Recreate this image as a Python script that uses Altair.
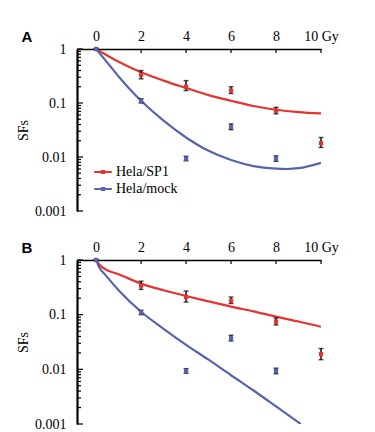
import altair as alt
import pandas as pd

series = ["Hela/SP1", "Hela/mock"]
colors = ["#e6332e", "#5664ae"]

# ---------- Panel A ----------
a_sp1_curve_x = [0, 1, 2, 3, 4, 5, 6, 7, 8, 9, 10]
a_sp1_curve_y = [1, 0.58, 0.37, 0.26, 0.19, 0.14, 0.11, 0.088, 0.075, 0.068, 0.064]
a_mock_curve_x = [0, 0.5, 1, 1.5, 2, 3, 4, 5, 6, 7, 8, 8.5, 9, 10]
a_mock_curve_y = [1, 0.56, 0.31, 0.18, 0.11, 0.047, 0.023, 0.013, 0.0088, 0.0068, 0.0061, 0.006, 0.0062, 0.0078]

a_sp1_x = [0, 2, 4, 6, 8, 10]
a_sp1_y = [1, 0.33, 0.20, 0.17, 0.072, 0.018]
a_sp1_lo = [1, 0.28, 0.17, 0.15, 0.063, 0.015]
a_sp1_hi = [1, 0.40, 0.26, 0.20, 0.083, 0.023]
a_mock_x = [0, 2, 4, 6, 8]
a_mock_y = [1, 0.11, 0.0093, 0.036, 0.0093]
a_mock_lo = [1, 0.10, 0.0085, 0.032, 0.0083]
a_mock_hi = [1, 0.12, 0.0103, 0.041, 0.0105]

# ---------- Panel B ----------
b_sp1_curve_x = [0, 0.15, 0.4, 1, 2, 3, 4, 5, 6, 7, 8, 9, 10]
b_sp1_curve_y = [1, 0.82, 0.68, 0.55, 0.37, 0.28, 0.22, 0.175, 0.14, 0.115, 0.092, 0.075, 0.06]
b_mock_curve_x = [0, 0.15, 0.4, 1, 2, 3, 4, 5, 6, 7, 8, 9.1]
b_mock_curve_y = [1, 0.72, 0.54, 0.28, 0.113, 0.055, 0.028, 0.015, 0.0078, 0.0041, 0.0021, 0.001]

b_sp1_x = [0, 2, 4, 6, 8, 10]
b_sp1_y = [1, 0.34, 0.21, 0.18, 0.075, 0.019]
b_sp1_lo = [1, 0.29, 0.17, 0.16, 0.065, 0.015]
b_sp1_hi = [1, 0.41, 0.27, 0.21, 0.087, 0.024]
b_mock_x = [0, 2, 4, 6, 8]
b_mock_y = [1, 0.11, 0.0093, 0.037, 0.0093]
b_mock_lo = [1, 0.10, 0.0085, 0.033, 0.0083]
b_mock_hi = [1, 0.12, 0.0103, 0.042, 0.0105]

x_ticks = [0, 2, 4, 6, 8, 10]
y_major = [0.001, 0.01, 0.1, 1]
y_minor = [m * d for d in [0.001, 0.01, 0.1] for m in range(2, 10)]

SERIF = "Liberation Serif"
W = 244


def curves_df(sx, sy, mx, my):
    return pd.concat([
        pd.DataFrame({"x": sx, "y": sy, "s": series[0], "o": range(len(sx))}),
        pd.DataFrame({"x": mx, "y": my, "s": series[1], "o": range(len(mx))}),
    ])


def points_df(sx, sy, slo, shi, mx, my, mlo, mhi):
    return pd.concat([
        pd.DataFrame({"x": sx, "y": sy, "lo": slo, "hi": shi, "s": series[0]}),
        pd.DataFrame({"x": mx, "y": my, "lo": mlo, "hi": mhi, "s": series[1]}),
    ])


xscale = alt.Scale(domain=[-0.85, 10], nice=False, zero=False)
yscale = alt.Scale(type="log", domain=[0.001, 1], nice=False)
cscale = alt.Scale(domain=series, range=colors)

legend_path = "M-1.1,0H1.1M-0.14,-0.14H0.14V0.14H-0.14Z"

x_axis = alt.Axis(orient="top", values=x_ticks, ticks=False, grid=False,
                  title=None, domainColor="black", domainWidth=1.5,
                  labelFont=SERIF, labelFontSize=14, labelColor="black",
                  labelPadding=6, labelFlush=False,
                  labelExpr="datum.value == 10 ? '10 Gy' : datum.label")
y_axis = alt.Axis(values=y_major, format="~g", ticks=False, grid=False,
                  title="SFs", titleFont=SERIF, titleFontSize=14,
                  titleFontWeight="normal", titleColor="black", titlePadding=4,
                  domainColor="black", domainWidth=2.2,
                  labelFont=SERIF, labelFontSize=14, labelColor="black",
                  labelPadding=11, labelFlush=False)


def X(field="x"):
    return alt.X(f"{field}:Q", scale=xscale, axis=x_axis, title=None)


def Y(field="y"):
    return alt.Y(f"{field}:Q", scale=yscale, axis=y_axis, title="SFs")


def panel(letter, cdf, pdf, h, leg_y):
    lines = alt.Chart(cdf).mark_line(strokeWidth=2.2, clip=True, interpolate="monotone").encode(
        x=X(), y=Y(), order="o:Q",
        color=alt.Color("s:N", scale=cscale, sort=series,
                        legend=alt.Legend(orient="none", legendX=17, legendY=leg_y, title=None,
                                          symbolType=legend_path, symbolSize=256,
                                          symbolStrokeWidth=2, labelFont=SERIF,
                                          labelFontSize=14, labelColor="black",
                                          labelOffset=4, rowPadding=1, padding=0)))

    err = alt.Chart(pdf).mark_rule(color="black", strokeWidth=1.4).encode(
        x=X(), y=Y("lo"), y2="hi:Q")
    cap_lo = alt.Chart(pdf).mark_tick(color="black", orient="horizontal", size=5, thickness=1.4).encode(
        x=X(), y=Y("lo"))
    cap_hi = alt.Chart(pdf).mark_tick(color="black", orient="horizontal", size=5, thickness=1.4).encode(
        x=X(), y=Y("hi"))
    pts = alt.Chart(pdf).mark_square(size=18, opacity=1).encode(
        x=X(), y=Y(),
        color=alt.Color("s:N", scale=cscale, legend=None))

    major = alt.Chart(pd.DataFrame({"y": y_major})).mark_rule(color="black", strokeWidth=1.2).encode(
        y=Y(), x=alt.value(0), x2=alt.value(6))
    minor = alt.Chart(pd.DataFrame({"y": y_minor})).mark_rule(color="black", strokeWidth=1.2).encode(
        y=Y(), x=alt.value(0), x2=alt.value(4))
    xt = alt.Chart(pd.DataFrame({"x": x_ticks[1:]})).mark_rule(color="black", strokeWidth=1.2).encode(
        x=X(), y=alt.value(0), y2=alt.value(4))

    lab = alt.Chart(pd.DataFrame({"t": [letter]})).mark_text(
        font="Liberation Sans", fontWeight="bold", fontSize=15, color="black",
        align="center", baseline="middle").encode(
        text="t:N", x=alt.value(-50), y=alt.value(-12))

    return alt.layer(lines, minor, major, xt, err, cap_lo, cap_hi, pts, lab).properties(
        width=W, height=h)


pa = panel("A", curves_df(a_sp1_curve_x, a_sp1_curve_y, a_mock_curve_x, a_mock_curve_y),
           points_df(a_sp1_x, a_sp1_y, a_sp1_lo, a_sp1_hi, a_mock_x, a_mock_y, a_mock_lo, a_mock_hi),
           162, 114)
pb = panel("B", curves_df(b_sp1_curve_x, b_sp1_curve_y, b_mock_curve_x, b_mock_curve_y),
           points_df(b_sp1_x, b_sp1_y, b_sp1_lo, b_sp1_hi, b_mock_x, b_mock_y, b_mock_lo, b_mock_hi),
           164, 117)

chart = alt.vconcat(pa, pb, spacing=22).resolve_scale(color="shared").properties(
    padding={"left": 16, "top": 29, "right": 5, "bottom": 5},
    background="white",
).configure_view(stroke=None)

chart.save("out.html", embed_options={"renderer": "svg", "actions": False})
